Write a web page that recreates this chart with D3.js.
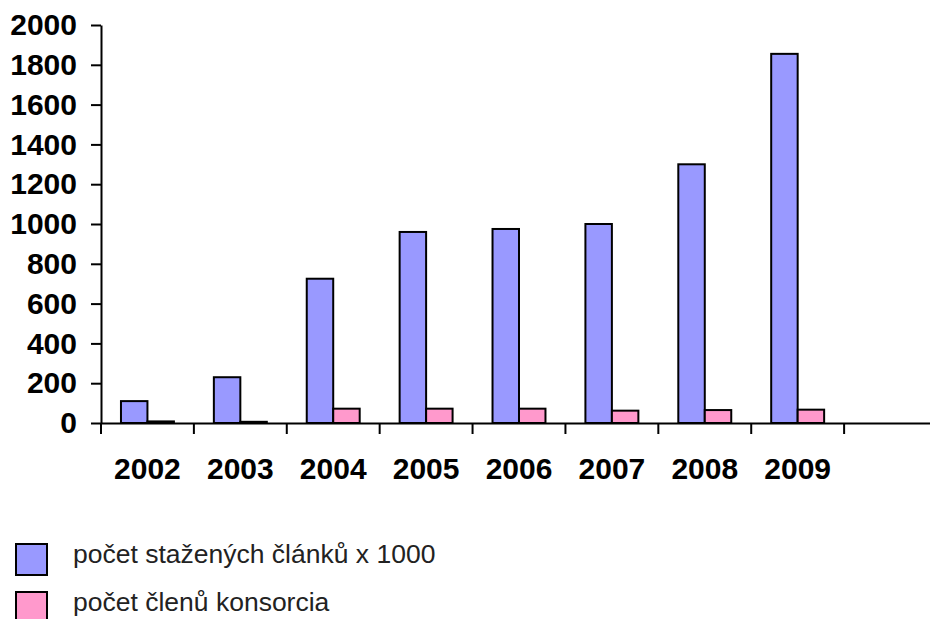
<!DOCTYPE html>
<html>
<head>
<meta charset="utf-8">
<script src="https://cdn.jsdelivr.net/npm/d3@7"></script>
<style>
  body { margin: 0; background: #fff; }
  svg { display: block; }
</style>
</head>
<body>
<svg></svg>
<script>
// Data
let years = ["2002", "2003", "2004", "2005", "2006", "2007", "2008", "2009"];
let articles = [110, 230, 725, 960, 975, 1000, 1300, 1855]; // počet stažených článků x 1000
let members = [8, 6, 72, 72, 72, 62, 65, 67];               // počet členů konsorcia
let yTicks = [0, 200, 400, 600, 800, 1000, 1200, 1400, 1600, 1800, 2000];
let seriesNames = ["počet stažených článků x 1000", "počet členů konsorcia"];
let seriesColors = ["#9999ff", "#ff99cc"];

let width = 930;
let height = 619;

let svg = d3.select("svg")
    .attr("width", width)
    .attr("height", height);

// one empty band after 2009, like in the original
let categories = years.concat([""]);

let xScale = d3.scaleBand()
    .domain(categories)
    .range([101, 937]);

let subScale = d3.scaleBand()
    .domain([0, 1])
    .range([xScale.bandwidth() * 0.215, xScale.bandwidth() * 0.785]);

let yScale = d3.scaleLinear()
    .domain([0, 2000])
    .range([423, 25]);

let rows = years.map((y, i) => ({ year: y, values: [articles[i], members[i]] }));

// bars
let groups = svg.selectAll("g.year")
    .data(rows)
    .enter()
    .append("g")
    .attr("class", "year")
    .attr("transform", (d) => "translate(" + xScale(d.year) + ",0)");

groups.selectAll("rect")
    .data((d) => d.values.map((v, k) => ({ k: k, v: v })))
    .enter()
    .append("rect")
    .attr("x", (d) => subScale(d.k))
    .attr("width", subScale.bandwidth())
    .attr("y", (d) => yScale(d.v))
    .attr("height", (d) => yScale(0) - yScale(d.v))
    .attr("fill", (d) => seriesColors[d.k])
    .attr("stroke", "#000")
    .attr("stroke-width", 2);

// y axis
let yAxis = d3.axisLeft(yScale)
    .tickValues(yTicks)
    .tickFormat(d3.format("d"))
    .tickSizeInner(10)
    .tickSizeOuter(0)
    .tickPadding(14);

let gy = svg.append("g")
    .attr("transform", "translate(101,0)")
    .call(yAxis);

gy.selectAll("text")
    .style("font-family", "'Liberation Sans', Arial, sans-serif")
    .style("font-weight", "bold")
    .style("font-size", "30px")
    .attr("fill", "#000");

// x axis: labels centred, ticks on the band edges
let xAxis = d3.axisBottom(xScale)
    .tickSize(0)
    .tickPadding(35);

let gx = svg.append("g")
    .attr("transform", "translate(0,423)")
    .call(xAxis);

gx.selectAll("text")
    .style("font-family", "'Liberation Sans', Arial, sans-serif")
    .style("font-weight", "bold")
    .style("font-size", "30px")
    .attr("fill", "#000");

gx.selectAll(".edge")
    .data(categories)
    .enter()
    .append("line")
    .attr("class", "edge")
    .attr("x1", (d) => xScale(d))
    .attr("x2", (d) => xScale(d))
    .attr("y1", 0)
    .attr("y2", 11)
    .attr("stroke", "#000")
    .attr("stroke-width", 2);

svg.selectAll(".domain, .tick line")
    .attr("stroke", "#000")
    .attr("stroke-width", 2);

// legend
let legend = svg.selectAll("g.legend")
    .data(seriesNames)
    .enter()
    .append("g")
    .attr("class", "legend")
    .attr("transform", (d, i) => "translate(16," + (544 + i * 48) + ")");

legend.append("rect")
    .attr("width", 31)
    .attr("height", 31)
    .attr("fill", (d, i) => seriesColors[i])
    .attr("stroke", "#000")
    .attr("stroke-width", 2);

legend.append("text")
    .attr("x", 57)
    .attr("y", 19)
    .style("font-family", "'Liberation Sans', Arial, sans-serif")
    .style("font-size", "26.5px")
    .attr("fill", "#222")
    .text((d) => d);
</script>
</body>
</html>
